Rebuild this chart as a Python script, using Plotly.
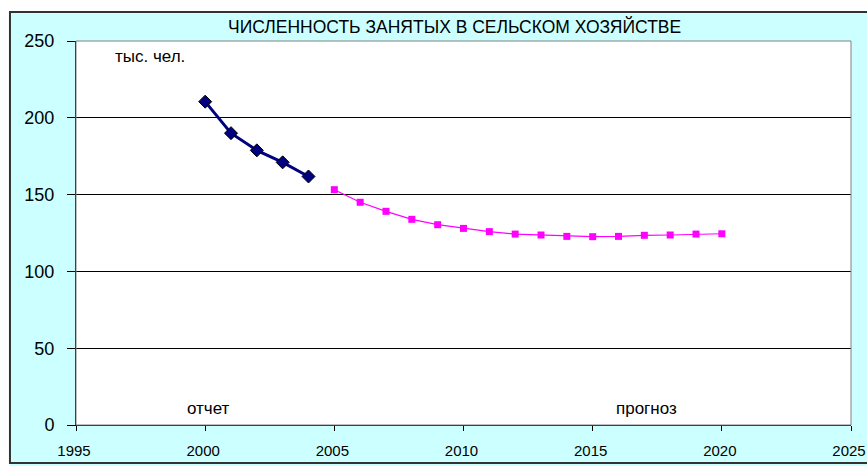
import plotly.graph_objects as go

# отчетные данные, тыс. чел.
years_fact = [2000, 2001, 2002, 2003, 2004]
employed_fact = [210.5, 190, 178.8, 171, 161.8]

# прогноз
years_forecast = list(range(2005, 2021))
employed_forecast = [153.2, 145, 139.1, 133.9, 130.4, 128, 125.9, 124.3,
                     123.7, 122.8, 122.6, 122.8, 123.5, 123.7, 124.3, 124.5]

x_ticks = [1995, 2000, 2005, 2010, 2015, 2020, 2025]
y_ticks = [0, 50, 100, 150, 200, 250]

FONT = "Arial, Liberation Sans, sans-serif"

fig = go.Figure()

fig.add_trace(go.Scatter(
    x=years_fact, y=employed_fact, mode="lines+markers",
    line=dict(color="#000080", width=3),
    marker=dict(symbol="diamond", size=10, color="#000080",
                line=dict(color="black", width=1)),
    showlegend=False,
))

fig.add_trace(go.Scatter(
    x=years_forecast, y=employed_forecast, mode="lines+markers",
    line=dict(color="#FF00FF", width=1.2),
    marker=dict(symbol="square", size=7, color="#FF00FF"),
    showlegend=False,
))

# подписи внутри графика
fig.add_annotation(x=1996.43, y=239.6, text="тыс. чел.", showarrow=False,
                   xanchor="left", yanchor="middle", font=dict(size=17))
fig.add_annotation(x=2000.13, y=11, text="отчет", showarrow=False,
                   xanchor="center", yanchor="middle", font=dict(size=17))
fig.add_annotation(x=2017.09, y=11, text="прогноз", showarrow=False,
                   xanchor="center", yanchor="middle", font=dict(size=17))

# заголовок
fig.add_annotation(x=0.488, y=1.039, xref="paper", yref="paper",
                   text="ЧИСЛЕННОСТЬ ЗАНЯТЫХ В СЕЛЬСКОМ ХОЗЯЙСТВЕ",
                   showarrow=False, xanchor="center", yanchor="middle",
                   font=dict(size=17.5))

# белые полосы вокруг голубой рамки и тёмная рамка
fig.add_shape(type="rect", xref="paper", yref="paper",
              x0=-0.2, x1=1.2, y0=1.0755, y1=1.3,
              fillcolor="white", line=dict(width=0))
fig.add_shape(type="rect", xref="paper", yref="paper",
              x0=-0.2, x1=-0.0852, y0=-0.2, y1=1.3,
              fillcolor="white", line=dict(width=0))
fig.add_shape(type="rect", xref="paper", yref="paper",
              x0=-0.0852, x1=1.05, y0=-0.099, y1=1.0755,
              fillcolor="rgba(0,0,0,0)", line=dict(color="#333333", width=2))
# рамка области построения
fig.add_shape(type="rect", xref="paper", yref="paper",
              x0=0, x1=1, y0=0, y1=1,
              fillcolor="rgba(0,0,0,0)", line=dict(color="#808080", width=1))

fig.update_xaxes(
    range=[1995, 2025], tickvals=x_ticks, showgrid=False, zeroline=False,
    showline=True, linecolor="black", linewidth=1,
    ticks="outside", ticklen=5, tickcolor="black",
    tickfont=dict(size=15), ticklabelstandoff=7, ticklabelshift=-2,
    ticklabeloverflow="allow", automargin=False,
)
fig.update_yaxes(
    range=[0, 250], tickvals=y_ticks, showgrid=True, gridcolor="black",
    gridwidth=1, zeroline=False,
    showline=True, linecolor="black", linewidth=1,
    ticks="outside", ticklen=8, tickcolor="black",
    tickfont=dict(size=18), ticklabelstandoff=9, automargin=False,
)

fig.update_layout(
    width=867, height=466,
    margin=dict(l=76, r=16, t=41, b=41),
    paper_bgcolor="#CCFFFF", plot_bgcolor="white",
    font=dict(family=FONT, color="black"),
)

fig.write_html("out.html", config={"displayModeBar": False},
               post_script="document.body.style.margin='0';")
